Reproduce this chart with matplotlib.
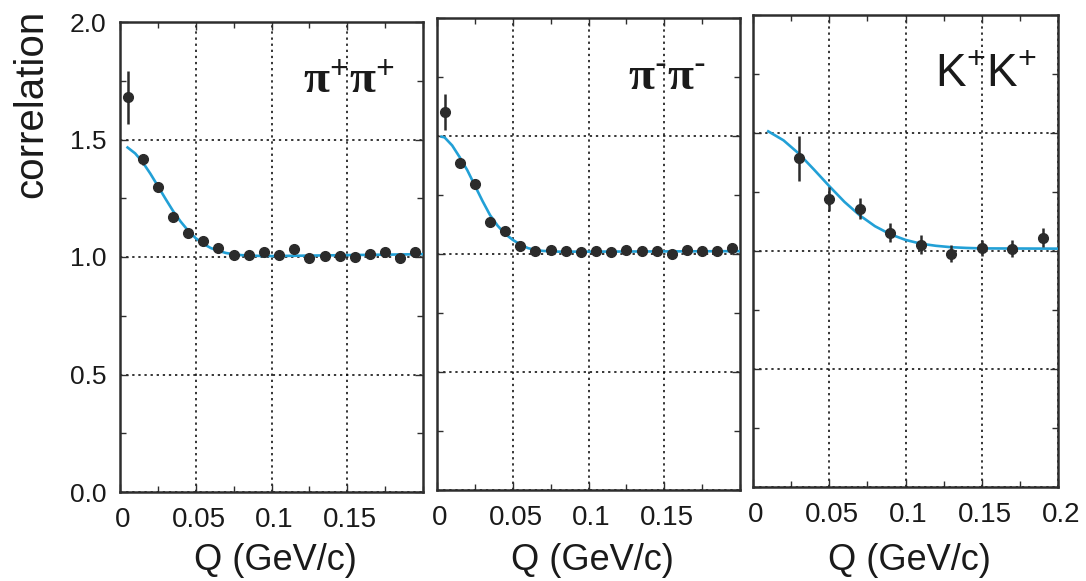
import matplotlib
matplotlib.use("Agg")
import matplotlib.pyplot as plt
from matplotlib.ticker import FixedLocator, MultipleLocator
from matplotlib.transforms import ScaledTranslation

plt.rcParams['font.family'] = ['Liberation Sans', 'DejaVu Sans']
plt.rcParams['mathtext.fontset'] = 'custom'
plt.rcParams['mathtext.bf'] = 'Liberation Serif:bold'
plt.rcParams['mathtext.sf'] = 'Liberation Sans'

# ---------------- data ----------------
q_pip = [0.005, 0.015, 0.025, 0.035, 0.045, 0.055, 0.065, 0.075, 0.085, 0.095,
         0.105, 0.115, 0.125, 0.135, 0.145, 0.155, 0.165, 0.175, 0.185, 0.195]
c_pip = [1.679, 1.415, 1.300, 1.169, 1.101, 1.068, 1.039, 1.007, 1.010, 1.020,
         1.007, 1.034, 0.997, 1.003, 1.003, 1.000, 1.011, 1.021, 0.996, 1.021]
e_pip = [0.112, 0.025, 0.015, 0.012, 0.012, 0.010, 0.010, 0.010, 0.010, 0.010,
         0.010, 0.010, 0.010, 0.010, 0.010, 0.010, 0.010, 0.010, 0.010, 0.010]

q_pim = [0.005, 0.015, 0.025, 0.035, 0.045, 0.055, 0.065, 0.075, 0.085, 0.095,
         0.105, 0.115, 0.125, 0.135, 0.145, 0.155, 0.165, 0.175, 0.185, 0.195]
c_pim = [1.603, 1.387, 1.297, 1.134, 1.096, 1.032, 1.011, 1.018, 1.011, 1.007,
         1.011, 1.007, 1.018, 1.011, 1.011, 1.001, 1.015, 1.011, 1.011, 1.025]
e_pim = [0.077, 0.015, 0.012, 0.012, 0.010, 0.010, 0.010, 0.010, 0.010, 0.010,
         0.010, 0.010, 0.010, 0.010, 0.010, 0.010, 0.010, 0.010, 0.010, 0.010]

q_kk = [0.03, 0.05, 0.07, 0.09, 0.11, 0.13, 0.15, 0.17, 0.19]
c_kk = [1.393, 1.220, 1.180, 1.078, 1.027, 0.989, 1.013, 1.010, 1.057]
e_kk = [0.095, 0.050, 0.045, 0.040, 0.040, 0.035, 0.035, 0.035, 0.040]

# fit curves
fit_q_pip = [0.005, 0.010, 0.015, 0.020, 0.025, 0.030, 0.035, 0.040, 0.045, 0.050,
             0.055, 0.060, 0.065, 0.070, 0.075, 0.080, 0.090, 0.100, 0.150, 0.200]
fit_c_pip = [1.466, 1.441, 1.403, 1.355, 1.302, 1.248, 1.196, 1.151, 1.112, 1.080,
             1.056, 1.038, 1.026, 1.017, 1.012, 1.008, 1.005, 1.004, 1.008, 1.012]

fit_q_pim = [0.003, 0.005, 0.010, 0.015, 0.020, 0.025, 0.030, 0.035, 0.040, 0.045,
             0.050, 0.055, 0.060, 0.065, 0.070, 0.080, 0.100, 0.150, 0.200]
fit_c_pim = [1.497, 1.494, 1.460, 1.410, 1.355, 1.290, 1.225, 1.165, 1.120, 1.085,
             1.060, 1.040, 1.025, 1.017, 1.013, 1.010, 1.010, 1.011, 1.012]

fit_q_kk = [0.010, 0.020, 0.030, 0.040, 0.050, 0.060, 0.070, 0.080, 0.090, 0.100,
            0.110, 0.120, 0.130, 0.140, 0.150, 0.200]
fit_c_kk = [1.507, 1.469, 1.413, 1.345, 1.275, 1.208, 1.151, 1.105, 1.071, 1.047,
            1.031, 1.022, 1.016, 1.013, 1.011, 1.010]

panel_labels = [r'$\mathbf{\pi^{+}\pi^{+}}$', r'$\mathbf{\pi^{\text{-}}\pi^{\text{-}}}$',
                r'$\mathsf{K^{+}K^{+}}$']
y_ticks = [0.0, 0.5, 1.0, 1.5, 2.0]
y_tick_labels = ['0.0', '0.5', '1.0', '1.5', '2.0']
x_ticks_a = [0.0, 0.05, 0.1, 0.15]
x_tick_labels_a = ['0', '0.05', '0.1', '0.15']
x_ticks_b = [0.0, 0.05, 0.1, 0.15, 0.2]
x_tick_labels_b = ['0', '0.05', '0.1', '0.15', '0.2']
x_label = 'Q (GeV/c)'
y_label = 'correlation'

# ---------------- figure ----------------
W, H = 1086, 581
fig = plt.figure(figsize=(W / 100, H / 100), dpi=100)

# panel boxes in pixels: left, right, top, bottom
boxes = [(120, 423, 22, 492), (437, 740, 18, 490), (753, 1058, 15, 487)]

series = [
    (q_pip, c_pip, e_pip, fit_q_pip, fit_c_pip, x_ticks_a, x_tick_labels_a),
    (q_pim, c_pim, e_pim, fit_q_pim, fit_c_pim, x_ticks_a, x_tick_labels_a),
    (q_kk, c_kk, e_kk, fit_q_kk, fit_c_kk, x_ticks_b, x_tick_labels_b),
]
label_pos = [(0.604, 0.849), (0.630, 0.847), (0.597, 0.847)]
label_size = [34, 34, 33]

frame_col = '#2e2e2e'
dot_col = '#2b2b2b'
text_col = '#1a1a1a'
fit_col = '#22a0d6'

for i, ((l, r, t, b), (q, c, e, fq, fc, xt, xtl)) in enumerate(zip(boxes, series)):
    ax = fig.add_axes([l / W, (H - b) / H, (r - l) / W, (b - t) / H])
    ax.set_xlim(0, 0.2)
    ax.set_ylim(0, 2.0)

    ax.plot(fq, fc, color=fit_col, lw=1.9, zorder=3)
    ax.errorbar(q, c, yerr=e, fmt='o', color=dot_col, ms=7, elinewidth=1.8,
                capsize=0, zorder=4)

    ax.xaxis.set_major_locator(FixedLocator(xt))
    ax.set_xticklabels(xtl)
    ax.xaxis.set_minor_locator(MultipleLocator(0.025))
    ax.yaxis.set_major_locator(FixedLocator(y_ticks))
    ax.yaxis.set_minor_locator(MultipleLocator(0.25))
    if i == 0:
        ax.set_yticklabels(y_tick_labels)
    else:
        ax.set_yticklabels([])

    ax.tick_params(which='both', direction='in', top=True, right=True,
                   color=frame_col, width=1.0, labelcolor=text_col)
    ax.tick_params(which='major', length=6)
    ax.tick_params(which='minor', length=4)
    ax.tick_params(axis='x', which='major', pad=11, labelsize=20)
    ax.tick_params(axis='y', which='major', pad=10, labelsize=19)
    shift = ScaledTranslation(0.03, 0, fig.dpi_scale_trans)
    for lab in ax.get_xticklabels():
        lab.set_transform(lab.get_transform() + shift)

    ax.grid(True, which='major', linestyle=(0, (1.5, 2.5)), color='black', lw=1.1)
    for s in ax.spines.values():
        s.set_color(frame_col)
        s.set_linewidth(1.8)

    ax.text(label_pos[i][0], label_pos[i][1], panel_labels[i], transform=ax.transAxes,
            ha='left', va='baseline', fontsize=label_size[i], color=text_col)

    fig.text((l + r) / 2 / W + 4 / W, (H - 560) / H, x_label, ha='center', va='center',
             fontsize=26, color=text_col)

fig.text(31 / W, (H - 104) / H, y_label, rotation=90, ha='center', va='center',
         fontsize=29, color=text_col)

fig.savefig('out.png', dpi=100, facecolor='white')
